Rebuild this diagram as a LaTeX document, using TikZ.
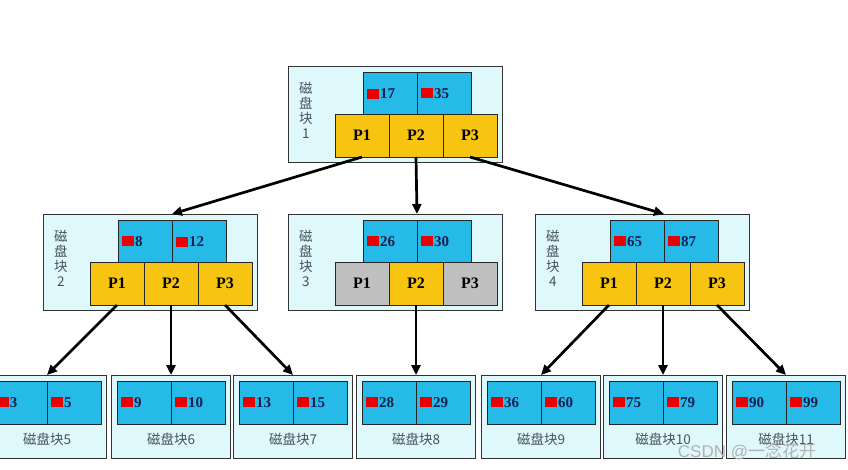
\documentclass[tikz,border=0pt]{standalone}
\usepackage{fontspec}
\setmainfont{Liberation Serif}
\newfontfamily\cjk{Noto Sans CJK SC}
\newfontfamily\marksans{Liberation Sans}
\usetikzlibrary{arrows.meta, positioning}
\definecolor{blockcyan}{RGB}{222,248,251}
\definecolor{keyblue}{RGB}{38,186,232}
\definecolor{pgold}{RGB}{247,196,18}
\definecolor{pgrey}{RGB}{192,192,192}
\definecolor{numnavy}{RGB}{20,32,78}
\definecolor{tagslate}{RGB}{72,82,92}
\definecolor{markred}{RGB}{232,0,0}
\newcommand{\redmark}{\textcolor{markred}{\rule{12pt}{10pt}}\hspace{1pt}}

\begin{document}
\begin{tikzpicture}[
    x=1pt, y=-1pt,
    block/.style={rectangle, draw=black!80, fill=blockcyan, line width=0.9pt, minimum width=214pt, minimum height=96pt, inner sep=0pt},
    leaf/.style={rectangle, draw=black!80, fill=blockcyan, line width=0.9pt, minimum width=119pt, minimum height=83pt, inner sep=0pt},
    key/.style={rectangle, draw=black!85, fill=keyblue, line width=0.9pt, outer sep=0pt, minimum width=54pt, minimum height=43pt, text width=46pt, inner xsep=4pt, inner ysep=0pt, align=left, text=numnavy, font=\fontsize{15}{15}\selectfont\bfseries},
    pbox/.style={rectangle, draw=black!85, fill=pgold, line width=0.9pt, outer sep=0pt, minimum width=54pt, minimum height=43pt, inner sep=0pt, font=\fontsize{16}{16}\selectfont\bfseries},
    tag/.style={text=tagslate, font=\cjk\fontsize{13.5}{15}\selectfont, align=center, inner sep=0pt},
    link/.style={-{Triangle[length=10pt, width=9pt]}, line width=2.7pt, black}
]
\useasboundingbox (0,0) rectangle (848,469);
\clip (0,0) rectangle (848,469);
% root block
\node[block, anchor=north west] (r) at (288,66) {};
\node[key, below right=6pt and 75pt of r.north west] (r-k1) {\redmark17};
\node[key, right=0pt of r-k1] (r-k2) {\redmark35};
\node[pbox, below right=48pt and 47pt of r.north west] (r-p1) {P1};
\node[pbox, right=0pt of r-p1] (r-p2) {P2};
\node[pbox, right=0pt of r-p2] (r-p3) {P3};
\node[tag, right=11pt of r.west, yshift=4pt] (r-tag) {磁\\盘\\块\\1};
% second level
\node[block, anchor=north west] (b2) at (43,214) {};
\node[key, below right=6pt and 75pt of b2.north west] (b2-k1) {\redmark8};
\node[key, right=0pt of b2-k1] (b2-k2) {\redmark12};
\node[pbox, below right=48pt and 47pt of b2.north west] (b2-p1) {P1};
\node[pbox, right=0pt of b2-p1] (b2-p2) {P2};
\node[pbox, right=0pt of b2-p2] (b2-p3) {P3};
\node[tag, right=11pt of b2.west, yshift=4pt] (b2-tag) {磁\\盘\\块\\2};

\node[block, anchor=north west] (b3) at (288,214) {};
\node[key, below right=6pt and 75pt of b3.north west] (b3-k1) {\redmark26};
\node[key, right=0pt of b3-k1] (b3-k2) {\redmark30};
\node[pbox, fill=pgrey, below right=48pt and 47pt of b3.north west] (b3-p1) {P1};
\node[pbox, right=0pt of b3-p1] (b3-p2) {P2};
\node[pbox, fill=pgrey, right=0pt of b3-p2] (b3-p3) {P3};
\node[tag, right=11pt of b3.west, yshift=4pt] (b3-tag) {磁\\盘\\块\\3};

\node[block, anchor=north west] (b4) at (535,214) {};
\node[key, below right=6pt and 75pt of b4.north west] (b4-k1) {\redmark65};
\node[key, right=0pt of b4-k1] (b4-k2) {\redmark87};
\node[pbox, below right=48pt and 47pt of b4.north west] (b4-p1) {P1};
\node[pbox, right=0pt of b4-p1] (b4-p2) {P2};
\node[pbox, right=0pt of b4-p2] (b4-p3) {P3};
\node[tag, right=11pt of b4.west, yshift=4pt] (b4-tag) {磁\\盘\\块\\4};
% leaves
\node[leaf, anchor=north west] (l5) at (-13,375) {};
\node[key, below right=6pt and 6pt of l5.north west] (l5-k1) {\redmark3};
\node[key, right=0pt of l5-k1] (l5-k2) {\redmark5};
\node[tag, below=9pt of l5-k1.south east] (l5-tag) {磁盘块5};

\node[leaf, anchor=north west] (l6) at (111,375) {};
\node[key, below right=6pt and 6pt of l6.north west] (l6-k1) {\redmark9};
\node[key, right=0pt of l6-k1] (l6-k2) {\redmark10};
\node[tag, below=9pt of l6-k1.south east] (l6-tag) {磁盘块6};

\node[leaf, anchor=north west] (l7) at (233,375) {};
\node[key, below right=6pt and 6pt of l7.north west] (l7-k1) {\redmark13};
\node[key, right=0pt of l7-k1] (l7-k2) {\redmark15};
\node[tag, below=9pt of l7-k1.south east] (l7-tag) {磁盘块7};

\node[leaf, anchor=north west] (l8) at (356,375) {};
\node[key, below right=6pt and 6pt of l8.north west] (l8-k1) {\redmark28};
\node[key, right=0pt of l8-k1] (l8-k2) {\redmark29};
\node[tag, below=9pt of l8-k1.south east] (l8-tag) {磁盘块8};

\node[leaf, anchor=north west] (l9) at (481,375) {};
\node[key, below right=6pt and 6pt of l9.north west] (l9-k1) {\redmark36};
\node[key, right=0pt of l9-k1] (l9-k2) {\redmark60};
\node[tag, below=9pt of l9-k1.south east] (l9-tag) {磁盘块9};

\node[leaf, anchor=north west] (l10) at (603,375) {};
\node[key, below right=6pt and 6pt of l10.north west] (l10-k1) {\redmark75};
\node[key, right=0pt of l10-k1] (l10-k2) {\redmark79};
\node[tag, below=9pt of l10-k1.south east] (l10-tag) {磁盘块10};

\node[leaf, anchor=north west] (l11) at (726,375) {};
\node[key, below right=6pt and 6pt of l11.north west] (l11-k1) {\redmark90};
\node[key, right=0pt of l11-k1] (l11-k2) {\redmark99};
\node[tag, below=9pt of l11-k1.south east] (l11-tag) {磁盘块11};
% pointers
\draw[link] (r-p1.south) -- (b2-k1.east |- b2.north);
\draw[link] (r-p2.south) -- (b3-k1.east |- b3.north);
\draw[link] (r-p3.south) -- (b4-k1.east |- b4.north);
\draw[link] (b2-p1.south) -- (l5-k1.east |- l5.north);
\draw[link] (b2-p2.south) -- (l6-k1.east |- l6.north);
\draw[link] (b2-p3.south) -- (l7-k1.east |- l7.north);
\draw[link] (b3-p2.south) -- (l8-k1.east |- l8.north);
\draw[link] (b4-p1.south) -- (l9-k1.east |- l9.north);
\draw[link] (b4-p2.south) -- (l10-k1.east |- l10.north);
\draw[link] (b4-p3.south) -- (l11-k1.east |- l11.north);
\node[text=gray!60, font=\marksans\fontsize{17}{17}\selectfont, inner sep=0pt] (mark) at (747,451) {CSDN @{\cjk 一念花开}};
\end{tikzpicture}
\end{document}
